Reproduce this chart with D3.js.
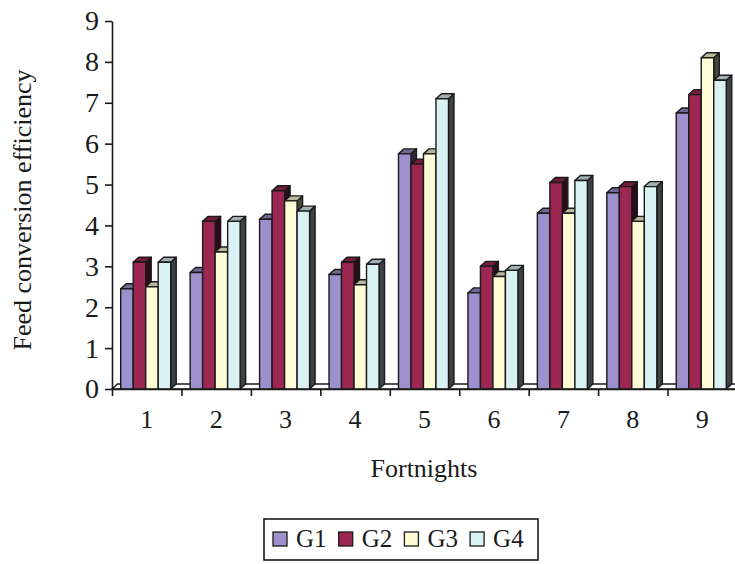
<!DOCTYPE html>
<html>
<head>
<meta charset="utf-8">
<script src="https://cdn.jsdelivr.net/npm/d3@7"></script>
<style>
  body { margin: 0; background: white; }
  svg { display: block; }
</style>
</head>
<body>
<div id="chart"></div>
<script>
// data
const fortnights = ["1", "2", "3", "4", "5", "6", "7", "8", "9"]
const groups = ["G1", "G2", "G3", "G4"]
const G1 = [2.45, 2.85, 4.15, 2.8, 5.75, 2.35, 4.3, 4.8, 6.75]
const G2 = [3.1, 4.1, 4.85, 3.1, 5.5, 3.0, 5.05, 4.95, 7.2]
const G3 = [2.5, 3.35, 4.6, 2.55, 5.75, 2.75, 4.3, 4.1, 8.1]
const G4 = [3.1, 4.1, 4.35, 3.05, 7.1, 2.9, 5.1, 4.95, 7.55]
const yTicks = [0, 1, 2, 3, 4, 5, 6, 7, 8, 9]

const series = [G1, G2, G3, G4]
const colors = ["#9d90cc", "#9c2752", "#fdfcd6", "#dbf2f5"]

let width = 735
let height = 564
let serif = "'Liberation Serif', 'Times New Roman', serif"
let ink = "#1a1a1a"

let svg = d3.select("#chart")
    .append("svg")
    .attr("width", width)
    .attr("height", height)
    .style("background", "white")

// scales
let x = d3.scaleBand()
    .domain(fortnights)
    .range([112, 737])
let xEdge = d3.scaleLinear()
    .domain([0, fortnights.length])
    .range([112, 737])
let x1 = d3.scaleBand()
    .domain(groups)
    .range([8.7, 58.7])
let y = d3.scaleLinear()
    .domain([0, 9])
    .range([389, 21])
let color = d3.scaleOrdinal().domain(groups).range(colors)

// 3D depth
let dx = 5.5, dy = 5

// floor
svg.append("path")
    .attr("d", `M${xEdge(0)},${y(0)} L${xEdge(0) + dx},${y(0) - dy} L${xEdge(9) + dx},${y(0) - dy} L${xEdge(9)},${y(0)} Z`)
    .attr("fill", "white")
    .attr("stroke", ink)
    .attr("stroke-width", 1.4)

// bars
let rows = []
fortnights.forEach((f, i) => {
    groups.forEach((g, j) => rows.push({ f: f, g: g, v: series[j][i] }))
})

let bar = svg.append("g")
    .selectAll("g")
    .data(rows)
    .join("g")
    .attr("stroke", ink)
    .attr("stroke-width", 1.4)
    .attr("stroke-linejoin", "round")

bar.each(function (d) {
    let g = d3.select(this)
    let x0 = x(d.f) + x1(d.g)
    let w = x1.bandwidth()
    let t = y(d.v)
    let b = y(0)
    let c = d3.color(color(d.g))
    g.append("path")
        .attr("d", `M${x0 + w},${t} L${x0 + w + dx},${t - dy} L${x0 + w + dx},${b - dy} L${x0 + w},${b} Z`)
        .attr("fill", c.darker(3.6))
    g.append("path")
        .attr("d", `M${x0},${t} L${x0 + dx},${t - dy} L${x0 + w + dx},${t - dy} L${x0 + w},${t} Z`)
        .attr("fill", c.darker(0.9))
    g.append("rect")
        .attr("x", x0)
        .attr("y", t)
        .attr("width", w)
        .attr("height", b - t)
        .attr("fill", c)
})

// y axis
let yAxis = svg.append("g")
    .attr("transform", `translate(112,0)`)
    .call(d3.axisLeft(y).tickValues(yTicks).tickSize(7).tickSizeOuter(0).tickPadding(6))
yAxis.selectAll("text").attr("font-family", serif).attr("font-size", 28).attr("fill", ink)
yAxis.selectAll("line, path").attr("stroke", ink).attr("stroke-width", 1.6)

// x axis: ticks at category edges, labels at centres
let xAxis = svg.append("g")
    .attr("transform", `translate(0,${y(0)})`)
    .call(d3.axisBottom(xEdge).tickValues(d3.range(9)).tickFormat("").tickSize(7).tickSizeOuter(0))
xAxis.selectAll("line, path").attr("stroke", ink).attr("stroke-width", 1.6)

let xLabels = svg.append("g")
    .attr("transform", `translate(0,${y(0)})`)
    .call(d3.axisBottom(x).tickSize(0).tickPadding(21))
xLabels.select(".domain").remove()
xLabels.selectAll("text").attr("font-family", serif).attr("font-size", 26).attr("fill", ink)

// axis titles
svg.append("text")
    .attr("transform", "translate(31,210) rotate(-90)")
    .attr("text-anchor", "middle")
    .attr("font-family", serif)
    .attr("font-size", 26)
    .attr("fill", ink)
    .text("Feed conversion efficiency")

svg.append("text")
    .attr("x", 424)
    .attr("y", 477)
    .attr("text-anchor", "middle")
    .attr("font-family", serif)
    .attr("font-size", 26)
    .attr("fill", ink)
    .text("Fortnights")

// legend
let legend = svg.append("g")
svg.append("rect")
    .attr("x", 264)
    .attr("y", 519)
    .attr("width", 274)
    .attr("height", 41)
    .attr("fill", "none")
    .attr("stroke", ink)
    .attr("stroke-width", 1.6)

let item = legend.selectAll("g")
    .data(groups)
    .join("g")
    .attr("transform", (d, i) => `translate(${273 + i * 65.7},0)`)
item.append("rect")
    .attr("x", 0)
    .attr("y", 532)
    .attr("width", 14)
    .attr("height", 14)
    .attr("fill", d => color(d))
    .attr("stroke", ink)
    .attr("stroke-width", 1.3)
item.append("text")
    .attr("x", 23)
    .attr("y", 547)
    .attr("font-family", serif)
    .attr("font-size", 25)
    .attr("fill", ink)
    .text(d => d)
</script>
</body>
</html>
